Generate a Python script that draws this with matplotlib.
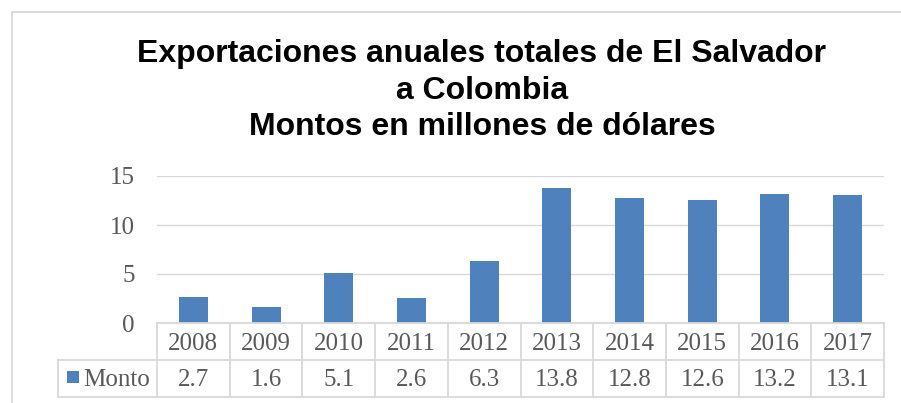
import matplotlib
matplotlib.use("Agg")
import matplotlib.pyplot as plt
from matplotlib.lines import Line2D
from matplotlib.patches import Rectangle
from matplotlib import transforms

# Data
years = ["2008", "2009", "2010", "2011", "2012", "2013", "2014", "2015", "2016", "2017"]
monto = [2.7, 1.6, 5.1, 2.6, 6.3, 13.8, 12.8, 12.6, 13.2, 13.1]
series_name = "Monto"
y_ticks = [0, 5, 10, 15]
title_lines = [
    "Exportaciones anuales totales de El Salvador",
    "a Colombia",
    "Montos en millones de dólares",
]

W, H = 901, 403
BAR = "#4F81BD"
GRID = "#D9D9D9"
TXT = "#595959"
SERIF = "Liberation Serif"
SANS = "Liberation Sans"
NUM_SIZE = 18

fig = plt.figure(figsize=(W / 100, H / 100), dpi=100)


def fx(px):
    return px / W


def fy(py):
    return 1 - py / H


# Plot area
ax_l, ax_r, ax_t, ax_b = 157, 884, 176, 323
ax = fig.add_axes([fx(ax_l), fy(ax_b), fx(ax_r - ax_l), (ax_b - ax_t) / H])
x = list(range(len(years)))
ax.bar(x, monto, width=0.4, color=BAR, zorder=3)
ax.set_xlim(-0.5, len(years) - 0.5)
ax.set_ylim(0, 15)
ax.set_yticks(y_ticks)
ax.set_yticklabels([str(t) for t in y_ticks], fontfamily=SERIF, fontsize=NUM_SIZE, color=TXT)
ax.tick_params(axis="y", length=0, pad=16)
ax.set_xticks([])
for s in ax.spines.values():
    s.set_visible(False)
ax.grid(axis="y", color=GRID, linewidth=1.0, zorder=0)
ax.set_axisbelow(True)

# Data table under the plot
blend = transforms.blended_transform_factory(ax.transData, fig.transFigure)
row1_top, row_mid, row_bot = 323, 360, 396.5
legend_left = 57.5
lw_tab = 1.3
x0, x1 = ax.get_xlim()

fig.add_artist(Line2D([x0, x1], [fy(row1_top), fy(row1_top)], transform=blend,
                      color=GRID, lw=lw_tab))
for py in (row_mid, row_bot):
    fig.add_artist(Line2D([fx(legend_left), fx(ax_r)], [fy(py), fy(py)],
                          transform=fig.transFigure, color=GRID, lw=lw_tab))
fig.add_artist(Line2D([fx(legend_left), fx(legend_left)], [fy(row_mid), fy(row_bot)],
                      transform=fig.transFigure, color=GRID, lw=lw_tab))
for i in range(len(years) + 1):
    xb = x0 + i
    fig.add_artist(Line2D([xb, xb], [fy(row1_top), fy(row_bot)], transform=blend,
                          color=GRID, lw=lw_tab))

for xi, yr, v in zip(x, years, monto):
    fig.text(xi, fy(350), yr, transform=blend, ha="center", va="baseline",
             fontfamily=SERIF, fontsize=NUM_SIZE, color=TXT)
    fig.text(xi, fy(386.5), f"{v:.1f}", transform=blend, ha="center", va="baseline",
             fontfamily=SERIF, fontsize=NUM_SIZE, color=TXT)

# Legend key cell
fig.add_artist(Rectangle((fx(67), fy(383)), fx(12), 12 / H, transform=fig.transFigure,
                         color=BAR, lw=0))
fig.text(fx(83), fy(386.5), series_name, ha="left", va="baseline",
         fontfamily=SERIF, fontsize=NUM_SIZE, color=TXT)

# Title
for line, base in zip(title_lines, [62, 99, 135]):
    fig.text(fx(482), fy(base), line, ha="center", va="baseline",
             fontfamily=SANS, fontweight="bold", fontsize=23, color="black")

# Chart frame
fig.add_artist(Line2D([fx(12), 1], [fy(12), fy(12)], transform=fig.transFigure,
                      color=GRID, lw=1.3))
fig.add_artist(Line2D([fx(12), fx(12)], [fy(12), 0], transform=fig.transFigure,
                      color=GRID, lw=1.3))

fig.savefig("out.png", dpi=100)
